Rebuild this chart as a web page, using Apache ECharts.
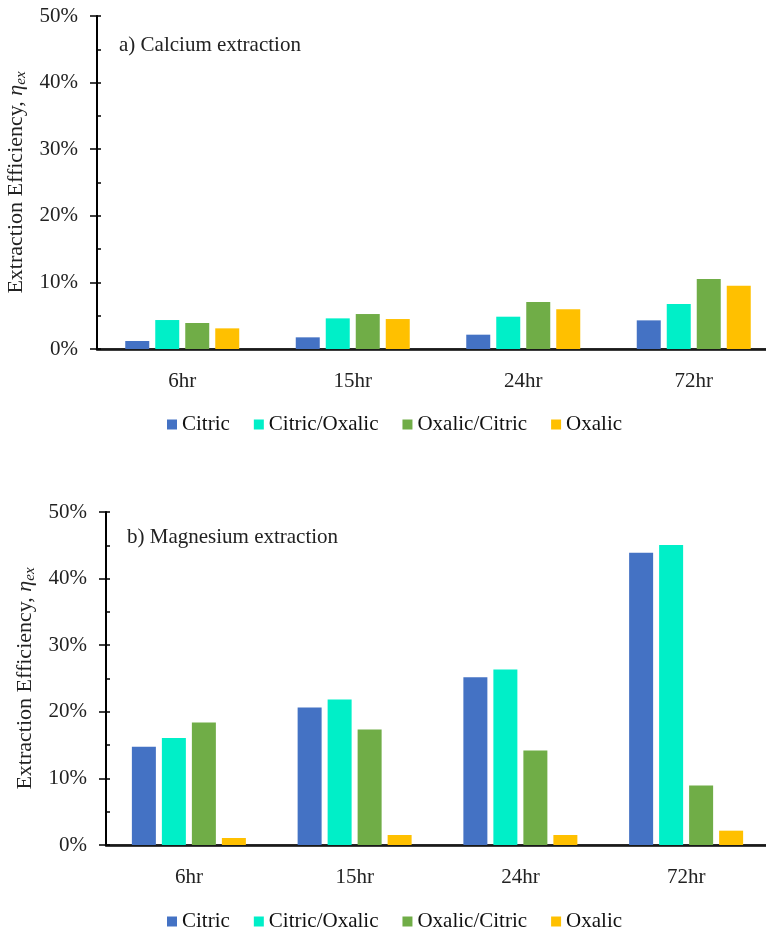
<!DOCTYPE html>
<html>
<head>
<meta charset="utf-8">
<script src="https://cdn.jsdelivr.net/npm/echarts@6/dist/echarts.min.js"></script>
<style>
  html, body { margin: 0; padding: 0; background: #fff; }
  #chart { width: 766px; height: 930px; }
</style>
</head>
<body>
<div id="chart"></div>
<script>
// Extraction time points
const categories = ['6hr', '15hr', '24hr', '72hr'];
const seriesNames = ['Citric', 'Citric/Oxalic', 'Oxalic/Citric', 'Oxalic'];
const seriesColors = ['#4472C4', '#00EFC8', '#70AD47', '#FFC000'];

// a) Calcium extraction efficiency (%)
const caCitric = [1.2, 1.75, 2.15, 4.3];
const caCitricOxalic = [4.35, 4.6, 4.85, 6.75];
const caOxalicCitric = [3.9, 5.25, 7.05, 10.5];
const caOxalic = [3.1, 4.5, 5.95, 9.5];

// b) Magnesium extraction efficiency (%)
const mgCitric = [14.75, 20.65, 25.2, 43.9];
const mgCitricOxalic = [16.05, 21.85, 26.35, 45.05];
const mgOxalicCitric = [18.4, 17.35, 14.2, 8.95];
const mgOxalic = [1.05, 1.5, 1.5, 2.15];

// Y axis range and ticks (%)
const yMin = 0, yMax = 50, yMajor = 10, yMinor = 5;

const FONT = "'Liberation Serif', 'Times New Roman', serif";
const chart = echarts.init(document.getElementById('chart'));

function yAxes(gridIndex) {
  return [
    {
      type: 'value', gridIndex, position: 'left', min: yMin, max: yMax, interval: yMajor,
      axisLine: { show: true, lineStyle: { color: '#000', width: 2 } },
      axisTick: { show: true, inside: false, length: 7, lineStyle: { color: '#000', width: 1.5 } },
      axisLabel: { formatter: '{value}%', fontFamily: FONT, fontSize: 21, color: '#222', margin: 19 },
      splitLine: { show: false },
      name: '{t|Extraction Efficiency, }{e|η}{s|ex}',
      nameLocation: 'middle', nameRotate: 90, nameGap: 60,
      nameTextStyle: {
        fontFamily: FONT, fontSize: 22, color: '#222',
        rich: {
          t: { fontFamily: FONT, fontSize: 22, color: '#222' },
          e: { fontFamily: FONT, fontSize: 22, fontStyle: 'italic', color: '#222' },
          s: { fontFamily: FONT, fontSize: 15, fontStyle: 'italic', color: '#222', padding: [10, 0, 0, 0] }
        }
      }
    },
    {
      // inner ticks every 5 %
      type: 'value', gridIndex, position: 'left', min: yMin, max: yMax, interval: yMinor,
      axisLine: { show: false },
      axisTick: { show: true, inside: true, length: 4, lineStyle: { color: '#000', width: 1.5 } },
      axisLabel: { show: false },
      splitLine: { show: false }
    }
  ];
}

function xAxes(gridIndex) {
  return [
    {
      type: 'category', gridIndex, data: categories, position: 'bottom',
      axisLine: { show: true, lineStyle: { color: '#000', width: 2.5 } },
      axisTick: { show: false },
      axisLabel: { fontFamily: FONT, fontSize: 21, color: '#222', margin: 22 }
    },
    {
      type: 'category', gridIndex, data: categories, position: 'top',
      axisLine: { show: true, lineStyle: { color: '#222', width: 1.5 } },
      axisTick: { show: false },
      axisLabel: { show: false }
    }
  ];
}

function bars(values, idx, xAxisIndex, yAxisIndex) {
  return {
    type: 'bar', name: seriesNames[idx], data: values,
    xAxisIndex, yAxisIndex,
    barWidth: 24, barGap: '25%',
    itemStyle: { color: seriesColors[idx] },
    silent: true
  };
}

const legendBase = {
  data: seriesNames, left: 167, padding: 0, itemWidth: 10, itemHeight: 10, itemGap: 24,
  icon: 'rect', textStyle: { fontFamily: FONT, fontSize: 21, color: '#111' },
  selectedMode: false
};

const titleStyle = { fontFamily: FONT, fontSize: 21, fontWeight: 'normal', color: '#222' };

chart.setOption({
  animation: false,
  color: seriesColors,
  title: [
    { text: 'a) Calcium extraction', left: 119, top: 35, padding: 0, textStyle: titleStyle },
    { text: 'b) Magnesium extraction', left: 127, top: 527, padding: 0, textStyle: titleStyle }
  ],
  legend: [
    Object.assign({}, legendBase, { top: 414 }),
    Object.assign({}, legendBase, { top: 911 })
  ],
  grid: [
    { left: 97, top: 16, width: 682, height: 333, outerBoundsMode: 'none' },
    { left: 106, top: 512, width: 663, height: 333, outerBoundsMode: 'none' }
  ],
  xAxis: [...xAxes(0), ...xAxes(1)],
  yAxis: [...yAxes(0), ...yAxes(1)],
  series: [
    bars(caCitric, 0, 0, 0),
    bars(caCitricOxalic, 1, 0, 0),
    bars(caOxalicCitric, 2, 0, 0),
    bars(caOxalic, 3, 0, 0),
    bars(mgCitric, 0, 2, 2),
    bars(mgCitricOxalic, 1, 2, 2),
    bars(mgOxalicCitric, 2, 2, 2),
    bars(mgOxalic, 3, 2, 2)
  ]
});
</script>
</body>
</html>
